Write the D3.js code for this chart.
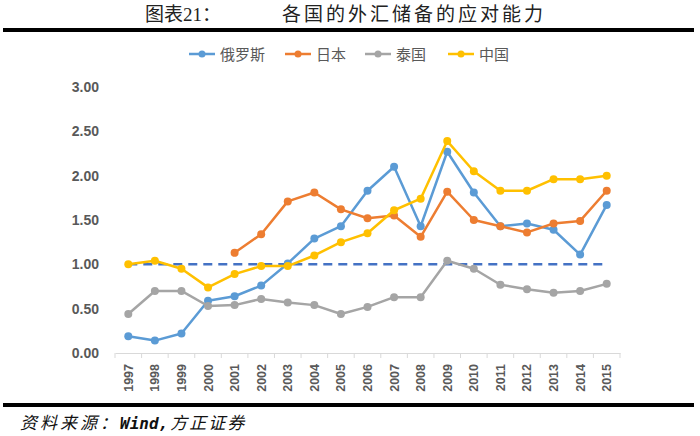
<!DOCTYPE html>
<html>
<head>
<meta charset="utf-8">
<script src="https://cdn.jsdelivr.net/npm/d3@7"></script>
<style>
  body { margin: 0; background: #fff; }
</style>
</head>
<body>
<script>
// data
var years = ["1997","1998","1999","2000","2001","2002","2003","2004","2005","2006",
             "2007","2008","2009","2010","2011","2012","2013","2014","2015"];
var russia   = [0.19,0.14,0.22,0.59,0.64,0.76,1.01,1.29,1.43,1.83,2.10,1.43,2.27,1.81,1.43,1.46,1.39,1.11,1.67];
var japan    = [null,null,null,null,1.13,1.34,1.71,1.81,1.62,1.52,1.55,1.31,1.82,1.50,1.43,1.36,1.46,1.49,1.83];
var thailand = [0.44,0.70,0.70,0.53,0.54,0.61,0.57,0.54,0.44,0.52,0.63,0.63,1.04,0.95,0.77,0.72,0.68,0.70,0.78];
var china    = [1.00,1.04,0.95,0.74,0.89,0.98,0.98,1.10,1.25,1.35,1.61,1.74,2.39,2.05,1.83,1.83,1.96,1.96,2.00];
var refLevel = 1.00;
var yTicks = [0, 0.5, 1, 1.5, 2, 2.5, 3];
var seriesNames = ["俄罗斯", "日本", "泰国", "中国"];

var series = [
    { name: seriesNames[0], values: russia,   color: "#5B9BD5" },
    { name: seriesNames[1], values: japan,    color: "#ED7D31" },
    { name: seriesNames[2], values: thailand, color: "#A5A5A5" },
    { name: seriesNames[3], values: china,    color: "#FFC000" }
];

var W = 700, H = 436;
var svg = d3.select("body").append("svg")
    .attr("width", W)
    .attr("height", H);

var cjk = "'Noto Sans CJK SC', 'Noto Sans', sans-serif";

// -------------------------------------------------------------------------- //
//                               HEADER / FOOTER                              //
// -------------------------------------------------------------------------- //

svg.append("text")
    .attr("x", 145).attr("y", 21)
    .style("font-family", "'Liberation Serif', " + cjk)
    .style("font-size", "19px")
    .style("fill", "#222")
    .text("图表21：");

svg.append("text")
    .attr("x", 282).attr("y", 21)
    .style("font-family", cjk)
    .style("font-size", "19px")
    .style("letter-spacing", "3px")
    .style("fill", "#222")
    .text("各国的外汇储备的应对能力");

svg.append("rect").attr("x", 3).attr("y", 28).attr("width", 691).attr("height", 4).attr("fill", "#000");
svg.append("rect").attr("x", 3).attr("y", 403).attr("width", 691).attr("height", 4).attr("fill", "#000");

var foot = svg.append("text")
    .attr("x", 20).attr("y", 429)
    .style("font-family", cjk)
    .style("font-size", "17px")
    .style("font-style", "italic")
    .style("fill", "#111");
foot.append("tspan").style("letter-spacing", "3px").text("资料来源：");
foot.append("tspan")
    .style("font-family", "'DejaVu Sans Mono', monospace")
    .style("font-weight", "bold")
    .style("font-size", "16px")
    .text("Wind,");
foot.append("tspan").attr("dx", 2).style("letter-spacing", "2px").text("方正证券");

// -------------------------------------------------------------------------- //
//                                   SCALES                                   //
// -------------------------------------------------------------------------- //

var x = d3.scaleBand().domain(years).range([115, 620]).padding(0);
var y = d3.scaleLinear().domain([0, 3]).range([353, 87]);
function cx(d) { return x(d) + x.bandwidth() / 2; }

// y axis labels
svg.selectAll(".ylab")
    .data(yTicks)
    .enter().append("text")
    .attr("x", 99)
    .attr("y", function(d) { return y(d) + 5; })
    .style("text-anchor", "end")
    .style("font-family", "'Liberation Sans', Arial, sans-serif")
    .style("font-weight", "bold")
    .style("font-size", "14px")
    .style("fill", "#595959")
    .text(function(d) { return d3.format(".2f")(d); });

// x axis
var xAxis = d3.axisBottom(x).tickSize(0).tickFormat("");
var gx = svg.append("g").attr("transform", "translate(0,353)").call(xAxis);
gx.select(".domain").attr("stroke", "#D9D9D9").attr("stroke-width", 1);

svg.selectAll(".xtick")
    .data(years.concat(["end"]))
    .enter().append("line")
    .attr("x1", function(d, i) { return i < years.length ? x(d) : x.range()[1]; })
    .attr("x2", function(d, i) { return i < years.length ? x(d) : x.range()[1]; })
    .attr("y1", 353).attr("y2", 358)
    .attr("stroke", "#D9D9D9");

svg.selectAll(".xlab")
    .data(years)
    .enter().append("text")
    .attr("transform", function(d) { return "translate(" + (cx(d) + 4.5) + ",364) rotate(-90)"; })
    .style("text-anchor", "end")
    .style("font-family", "'Liberation Sans', Arial, sans-serif")
    .style("font-weight", "bold")
    .style("font-size", "12.5px")
    .style("fill", "#595959")
    .text(function(d) { return d; });

// reference line at 1.00
svg.append("line")
    .attr("x1", cx(years[0])).attr("x2", cx(years[years.length - 1]))
    .attr("y1", y(refLevel)).attr("y2", y(refLevel))
    .attr("stroke", "#4472C4")
    .attr("stroke-width", 2.5)
    .attr("stroke-dasharray", "9,6");

// -------------------------------------------------------------------------- //
//                                   LINES                                    //
// -------------------------------------------------------------------------- //

var line = d3.line()
    .defined(function(d) { return d.v !== null; })
    .x(function(d) { return cx(d.year); })
    .y(function(d) { return y(d.v); });

series.forEach(function(s) {
    var pts = years.map(function(yr, i) { return { year: yr, v: s.values[i] }; });
    svg.append("path")
        .attr("d", line(pts))
        .attr("fill", "none")
        .attr("stroke", s.color)
        .attr("stroke-width", 2.5)
        .attr("stroke-linejoin", "round");
    svg.selectAll(null)
        .data(pts.filter(function(d) { return d.v !== null; }))
        .enter().append("circle")
        .attr("cx", function(d) { return cx(d.year); })
        .attr("cy", function(d) { return y(d.v); })
        .attr("r", 4)
        .attr("fill", s.color);
});

// -------------------------------------------------------------------------- //
//                                   LEGEND                                   //
// -------------------------------------------------------------------------- //

var legendX = [189, 285, 365, 448];
series.forEach(function(s, i) {
    var g = svg.append("g").attr("transform", "translate(" + legendX[i] + ",54)");
    g.append("line").attr("x1", 0).attr("x2", 26).attr("y1", 0).attr("y2", 0)
        .attr("stroke", s.color).attr("stroke-width", 2.5);
    g.append("circle").attr("cx", 13).attr("cy", 0).attr("r", 3.5).attr("fill", s.color);
    g.append("text")
        .attr("x", 31).attr("y", 5.5)
        .style("font-family", cjk)
        .style("font-size", "15px")
        .style("fill", "#595959")
        .text(s.name);
});
</script>
</body>
</html>
